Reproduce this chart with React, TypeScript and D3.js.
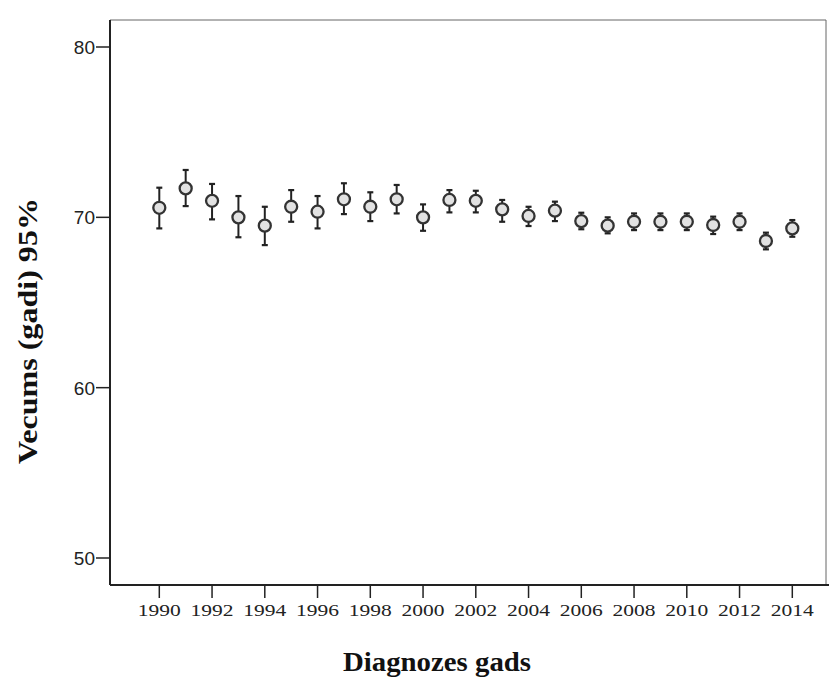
import React from "react";
import * as d3 from "d3";

// Mean age at diagnosis per year with 95% confidence interval
const years = [1990, 1991, 1992, 1993, 1994, 1995, 1996, 1997, 1998, 1999, 2000, 2001, 2002, 2003, 2004, 2005, 2006, 2007, 2008, 2009, 2010, 2011, 2012, 2013, 2014];
const means = [70.56, 71.70, 70.97, 70.0, 69.51, 70.62, 70.33, 71.06, 70.62, 71.06, 70.0, 71.02, 70.97, 70.47, 70.08, 70.39, 69.78, 69.51, 69.74, 69.74, 69.74, 69.55, 69.74, 68.61, 69.35];
const upper = [71.74, 72.78, 71.96, 71.25, 70.62, 71.60, 71.25, 72.0, 71.47, 71.90, 70.76, 71.60, 71.56, 71.02, 70.62, 70.92, 70.27, 70.0, 70.23, 70.23, 70.23, 70.04, 70.23, 69.10, 69.84];
const lower = [69.35, 70.66, 69.88, 68.83, 68.37, 69.74, 69.35, 70.19, 69.78, 70.23, 69.21, 70.29, 70.29, 69.74, 69.49, 69.78, 69.30, 69.06, 69.25, 69.25, 69.25, 69.02, 69.25, 68.12, 68.86];
const yTicks = [50, 60, 70, 80];
const xTicks = [1990, 1992, 1994, 1996, 1998, 2000, 2002, 2004, 2006, 2008, 2010, 2012, 2014];
const yTitle = "Vecums (gadi) 95%";
const xTitle = "Diagnozes gads";

const W = 829;
const H = 678;
const left = 110;
const right = 826;
const top = 20;
const bottom = 585;

export default function App() {
  const x = d3.scaleLinear().domain([1990, 2014]).range([159.3, 792.3]);
  const y = d3.scaleLinear().domain([50, 80]).range([558, 47]);
  const serif = "'Liberation Serif', 'DejaVu Serif', serif";
  const sans = "'Liberation Sans', Arial, sans-serif";

  return (
    <svg width={W} height={H} style={{ position: "absolute", left: 0, top: 0, background: "#fff" }}>
      {/* frame */}
      <line x1={left} x2={right} y1={top} y2={top} stroke="#666" strokeWidth={1} />
      <line x1={right} x2={right} y1={top} y2={bottom} stroke="#666" strokeWidth={1} />
      <line x1={left} x2={left} y1={top} y2={bottom} stroke="#222" strokeWidth={2} />
      <line x1={left} x2={W} y1={bottom} y2={bottom} stroke="#222" strokeWidth={2} />

      {/* y axis ticks */}
      {yTicks.map((t) => (
        <g key={t}>
          <line x1={left - 14} x2={left} y1={y(t)} y2={y(t)} stroke="#222" strokeWidth={1.5} />
          <text x={left - 15} y={y(t) + 7} textAnchor="end" fontFamily={sans} fontSize={19} fill="#222">
            {t}
          </text>
        </g>
      ))}

      {/* x axis ticks */}
      {xTicks.map((t) => (
        <g key={t}>
          <line x1={x(t)} x2={x(t)} y1={bottom} y2={bottom + 13} stroke="#222" strokeWidth={1.5} />
          <text
            x={x(t)}
            y={bottom + 31}
            textAnchor="middle"
            fontFamily={serif}
            fontSize={17}
            fill="#222"
            textLength={43}
            lengthAdjust="spacingAndGlyphs"
          >
            {t}
          </text>
        </g>
      ))}

      {/* error bars and means */}
      {years.map((yr, i) => {
        const cx = x(yr);
        return (
          <g key={yr}>
            <line x1={cx} x2={cx} y1={y(upper[i])} y2={y(lower[i])} stroke="#222" strokeWidth={2} />
            <line x1={cx - 3} x2={cx + 3} y1={y(upper[i])} y2={y(upper[i])} stroke="#222" strokeWidth={2.2} />
            <line x1={cx - 3} x2={cx + 3} y1={y(lower[i])} y2={y(lower[i])} stroke="#222" strokeWidth={2.2} />
            <circle cx={cx} cy={y(means[i])} r={6} fill="#e2e2e2" stroke="#333" strokeWidth={2.3} />
          </g>
        );
      })}

      {/* titles */}
      <text
        transform={`translate(37, 331) rotate(-90)`}
        textAnchor="middle"
        fontFamily={serif}
        fontWeight="bold"
        fontSize={28}
        fill="#111"
        textLength={266}
        lengthAdjust="spacingAndGlyphs"
      >
        {yTitle}
      </text>
      <text
        x={437}
        y={671}
        textAnchor="middle"
        fontFamily={serif}
        fontWeight="bold"
        fontSize={27}
        fill="#111"
        textLength={188}
        lengthAdjust="spacingAndGlyphs"
      >
        {xTitle}
      </text>
    </svg>
  );
}
